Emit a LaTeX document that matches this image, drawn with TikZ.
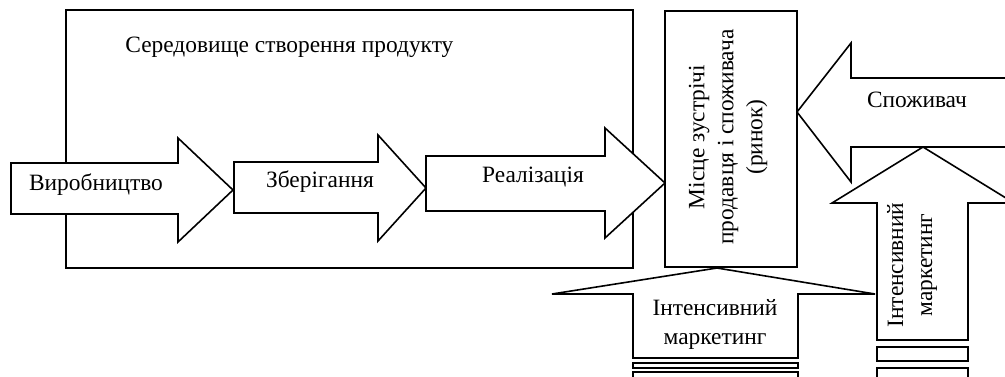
\documentclass[tikz,border=0pt]{standalone}
\usepackage{fontspec}
\setmainfont{Liberation Serif}
\tikzset{
  blk/.style={draw, fill=white, line width=0.8pt, line join=miter},
  lbl/.style={font=\fontsize{11.7}{14.5}\selectfont, align=center, inner sep=0pt},
}
\begin{document}
\begin{tikzpicture}[x=0.5pt, y=-0.5pt]
\useasboundingbox (0,0) rectangle (1005,376);
\clip (0,0) rectangle (1005,376);
\draw[blk] (66,10) rectangle (633,268);
\node[lbl, anchor=west] (env) at (125,47) {Середовище створення продукту};
\draw[blk] (11,163) -- (178,163) -- (178,138) -- (233,190) -- (178,242) -- (178,214) -- (11,214) -- cycle;
\node[lbl] (prod) at (96,185) {Виробництво};
\draw[blk] (234,162) -- (378,162) -- (378,135) -- (426,188) -- (378,241) -- (378,213) -- (234,213) -- cycle;
\node[lbl] (store) at (320,182) {Зберігання};
\draw[blk] (426,156) -- (605,156) -- (605,128) -- (665,183) -- (605,238) -- (605,211) -- (426,211) -- cycle;
\node[lbl] (sale) at (533,177) {Реалізація};
\draw[blk] (665,11) rectangle (797,267);
\node[lbl, rotate=90] (market) at (728,137) {Місце зустрічі\\продавця і споживача\\(ринок)};
\draw[blk] (1010,78) -- (851,78) -- (851,43) -- (797,112) -- (851,182) -- (851,147) -- (1010,147);
\node[lbl] (cons) at (917,100) {Споживач};
\draw[blk] (877,340) -- (877,203) -- (832,203) -- (923,147) -- (1014,203) -- (968,203) -- (968,340) -- cycle;
\node[lbl, rotate=90] (mkt2) at (912,265) {Інтенсивний\\маркетинг};
\draw[blk] (877,347) rectangle (968,361);
\draw[blk] (877,368) rectangle (968,382);
\draw[blk] (633,358) -- (633,294) -- (552,294) -- (717,268) -- (875,294) -- (798,294) -- (798,358) -- cycle;
\node[lbl] (mkt1) at (715,324) {Інтенсивний\\маркетинг};
\draw[blk] (633,363) rectangle (798,368);
\draw[blk] (633,372) rectangle (798,378);
\end{tikzpicture}
\end{document}
